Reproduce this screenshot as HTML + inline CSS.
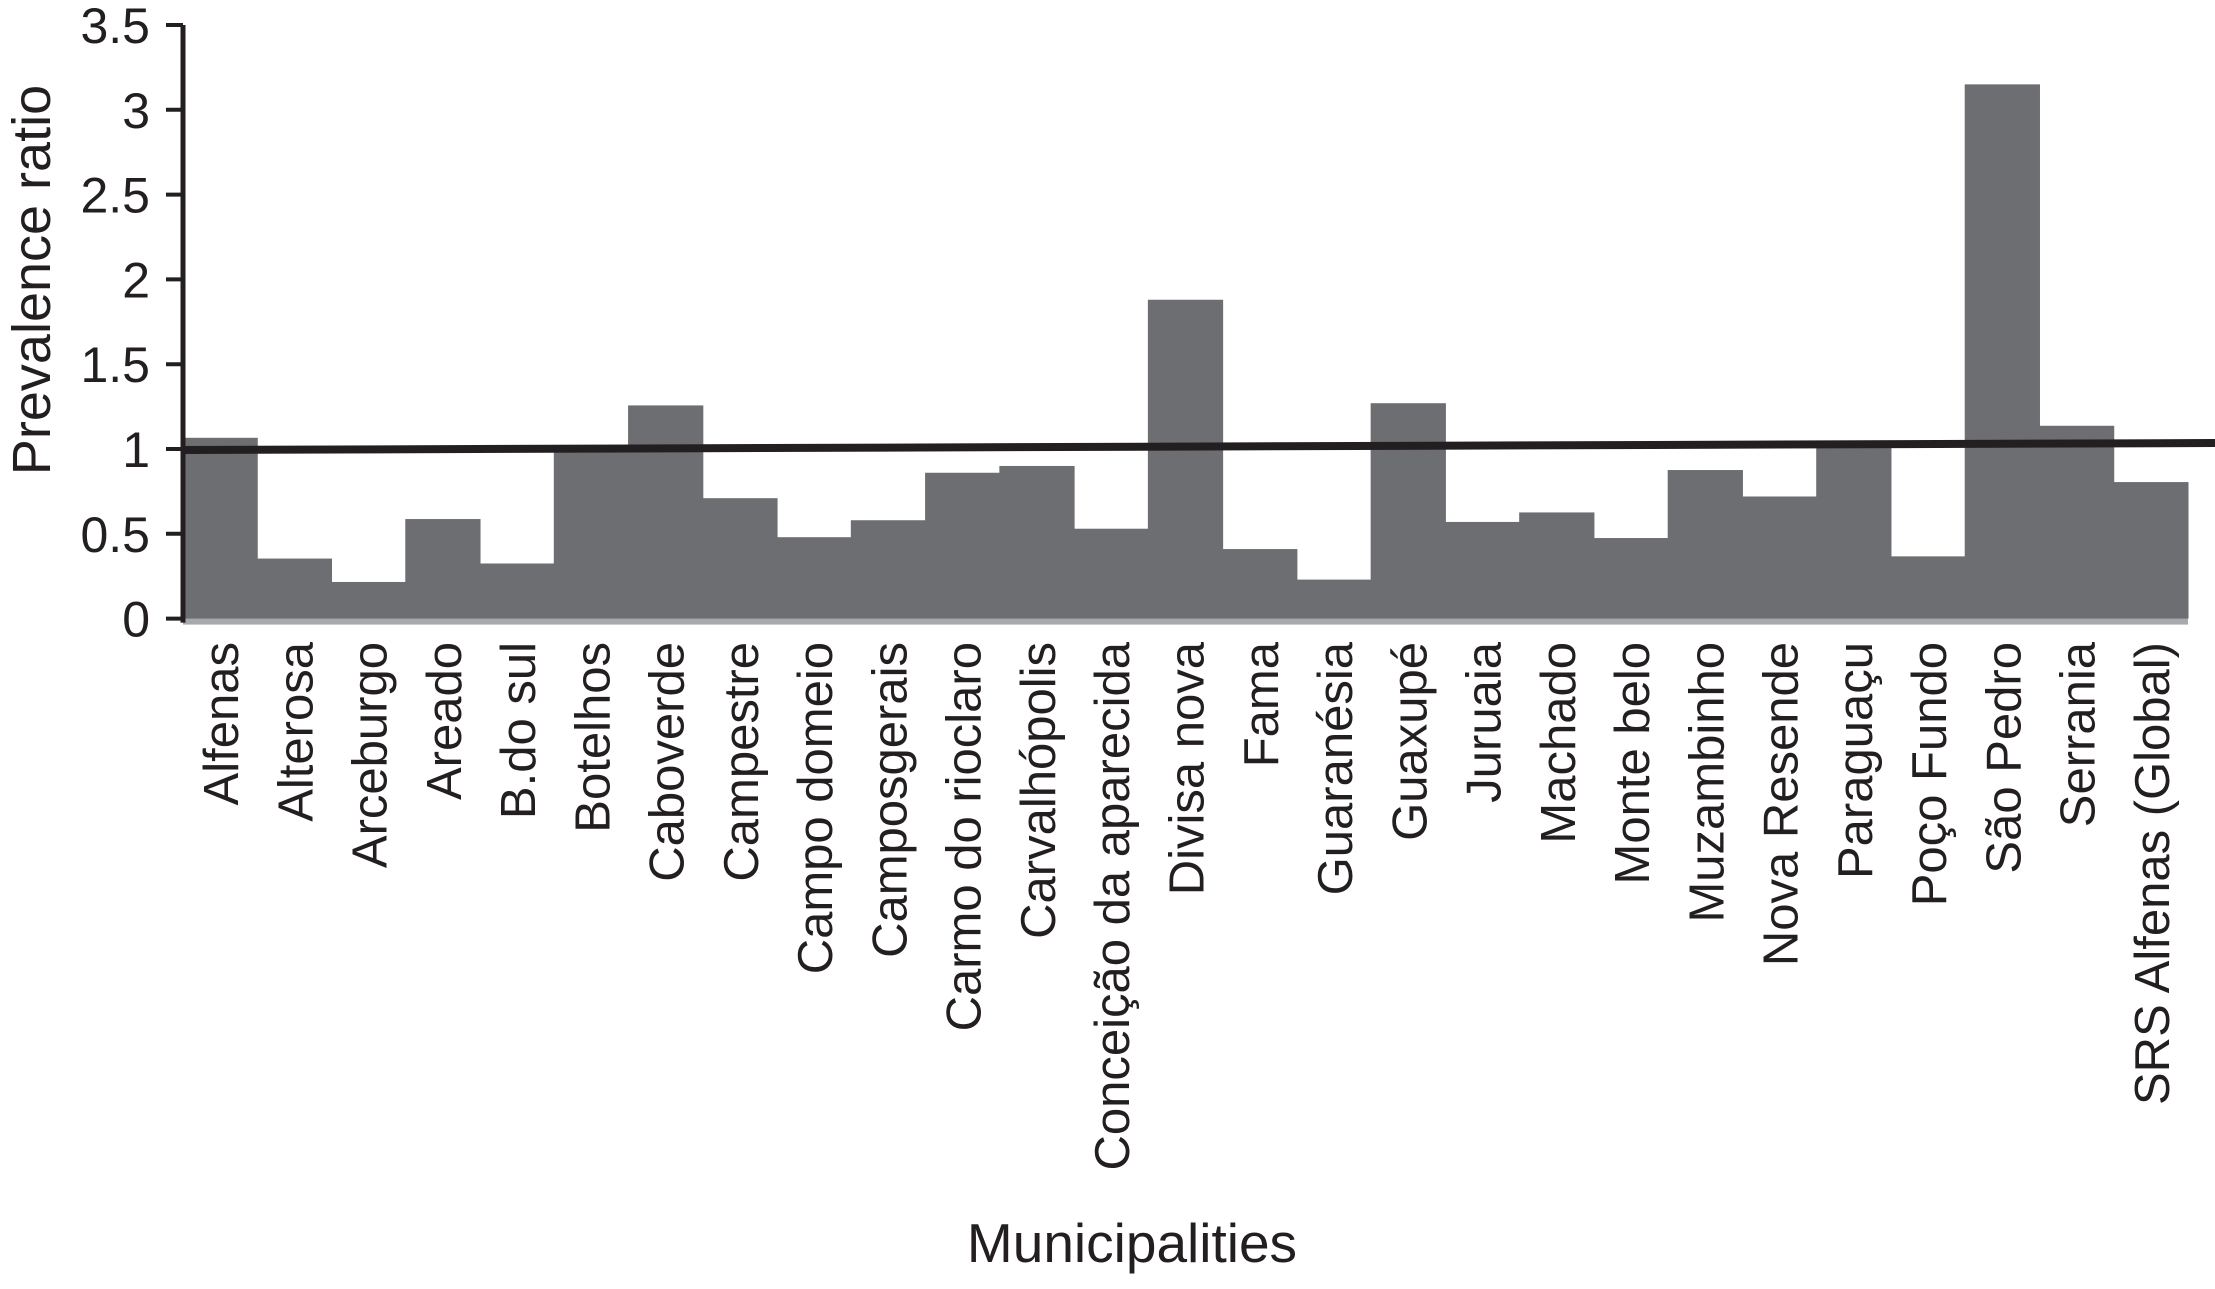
<!DOCTYPE html>
<html><head><meta charset="utf-8"><style>
html,body{margin:0;padding:0;background:#fff;}
svg{display:block;font-family:"Liberation Sans",Arial,sans-serif;}
</style></head><body>
<svg id="chart" width="2215" height="1289" viewBox="0 0 2215 1289" xmlns="http://www.w3.org/2000/svg">
<g id="bars"></g>
<g id="yaxis"></g>
<g id="xlabels"></g>
<text transform="translate(50,280) rotate(-90)" text-anchor="middle" font-size="54" fill="#231f20">Prevalence ratio</text>
<text x="1132" y="1262" text-anchor="middle" font-size="55" fill="#231f20">Municipalities</text>
</svg>
<script>
const categories = ["Alfenas","Alterosa","Arceburgo","Areado","B.do sul","Botelhos","Caboverde","Campestre","Campo domeio","Camposgerais","Carmo do rioclaro","Carvalhópolis","Conceição da aparecida","Divisa nova","Fama","Guaranésia","Guaxupé","Juruaia","Machado","Monte belo","Muzambinho","Nova Resende","Paraguaçu","Poço Fundo","São Pedro","Serrania","SRS Alfenas (Global)"];
const values = [1.066,0.354,0.216,0.587,0.325,1.0,1.257,0.71,0.48,0.58,0.86,0.90,0.53,1.88,0.41,0.23,1.27,0.57,0.626,0.475,0.876,0.72,1.01,0.367,3.15,1.137,0.805];
const yTicks = [0,0.5,1,1.5,2,2.5,3,3.5];
const yTickLabels = ["0","0.5","1","1.5","2","2.5","3","3.5"];
const refValue = 1.0;

const NS="http://www.w3.org/2000/svg";
const x0=183, x1=2188, y0=618.6, unit=169.6;
const bw=(x1-x0)/categories.length;
const xPos=i=>x0+i*bw;
const yPos=v=>y0-v*unit;
function mk(tag,attrs,parent){const e=document.createElementNS(NS,tag);for(const k in attrs)e.setAttribute(k,attrs[k]);parent.appendChild(e);return e;}
const bars=document.getElementById('bars');
mk('rect',{x:x0,y:y0-2,width:x1-x0,height:8,fill:'#a7a9ac'},bars);
values.forEach((v,i)=>{
  const r=mk('rect',{x:xPos(i)-0.5,y:yPos(v),width:bw+1,height:y0-yPos(v),fill:'#6d6e71'},bars);
  
  
});
const ya=document.getElementById('yaxis');
const ref=mk('line',{x1:x0,y1:yPos(refValue)+1,x2:2215,y2:yPos(refValue)-6,stroke:'#231f20','stroke-width':8},ya);


mk('line',{x1:x0,y1:yPos(3.5),x2:x0,y2:y0+4,stroke:'#231f20','stroke-width':5},ya);
yTicks.forEach((t,i)=>{
  mk('line',{x1:166,y1:yPos(t),x2:x0,y2:yPos(t),stroke:'#231f20','stroke-width':4},ya);
  const tx=mk('text',{x:150,y:yPos(t)+18,'text-anchor':'end','font-size':50,fill:'#231f20'},ya);
  tx.textContent=yTickLabels[i];
  
  
});
const xl=document.getElementById('xlabels');
categories.forEach((c,i)=>{
  const cx=xPos(i)+bw/2;
  const t=mk('text',{transform:`translate(${cx+18},642) rotate(-90)`,'text-anchor':'end','font-size':49,fill:'#231f20'},xl);
  t.textContent=c;
  
  
});
</script>
</body></html>
